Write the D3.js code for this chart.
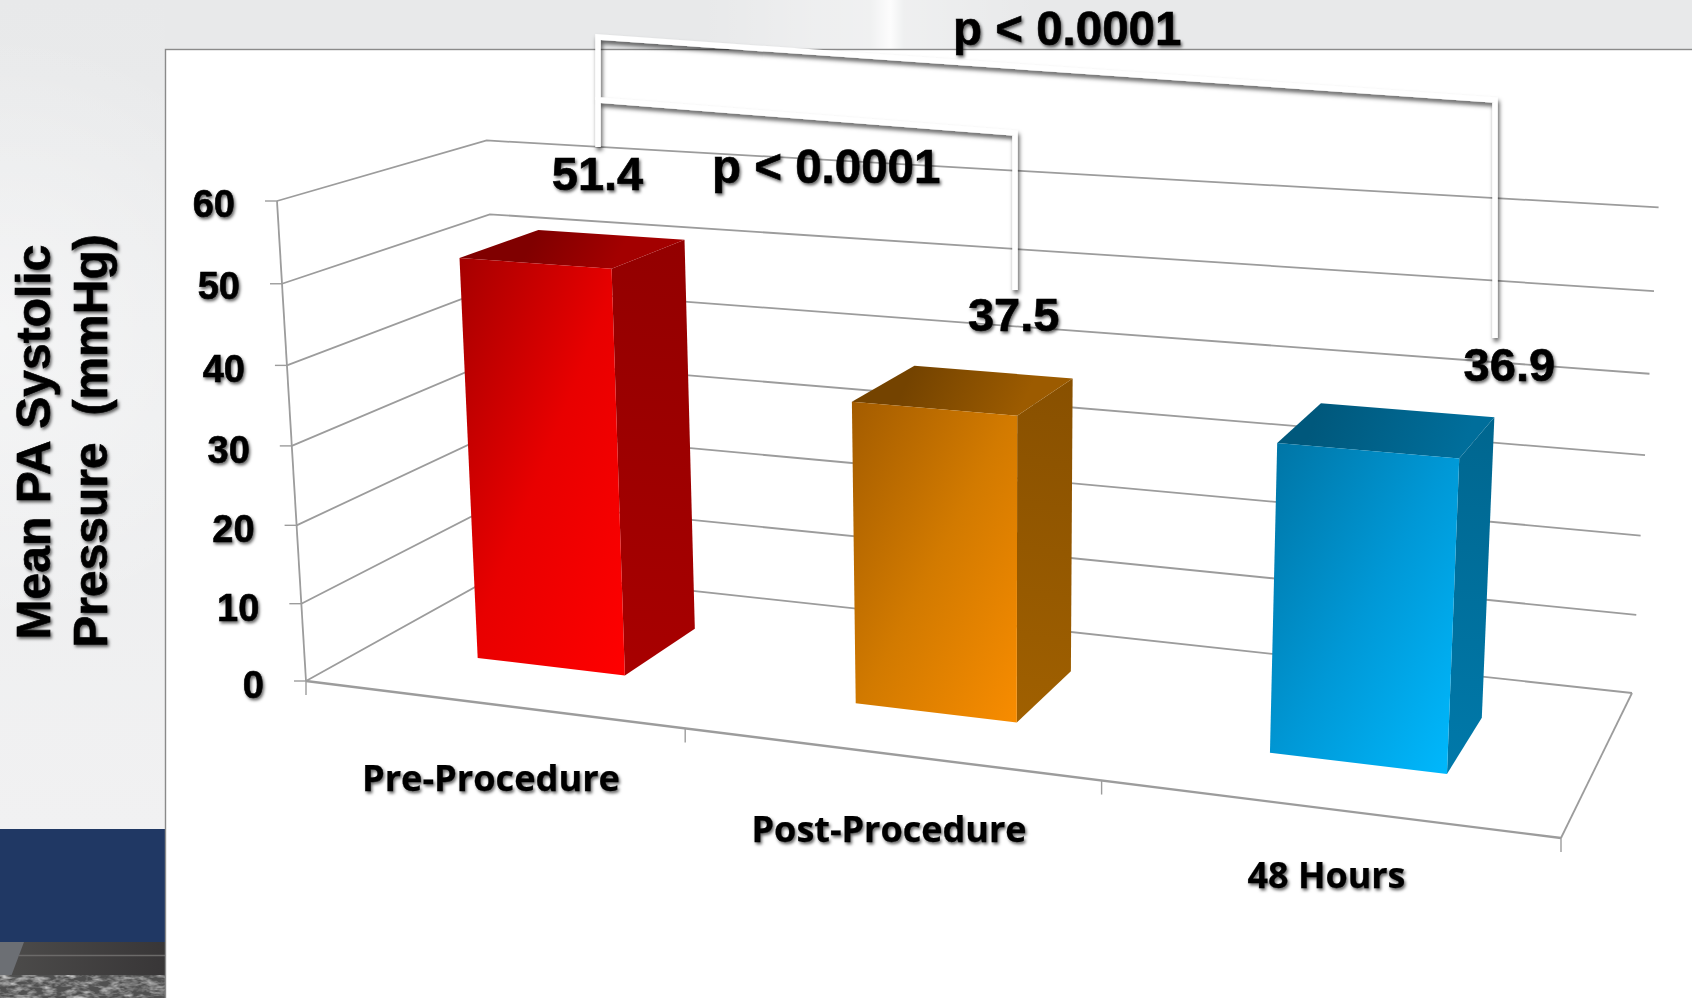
<!DOCTYPE html>
<html>
<head>
<meta charset="utf-8">
<script src="https://cdn.jsdelivr.net/npm/d3@7"></script>
<style>
html,body{margin:0;padding:0;background:#fff;overflow:hidden}
svg{display:block}
text{font-family:"Liberation Sans",Arial,sans-serif;font-weight:700;fill:#000;stroke:#000;stroke-width:0.6px}
.cat{font-family:"Open Sans","Noto Sans",sans-serif;stroke-width:0.25px}
</style>
</head>
<body>
<svg id="chart" width="1692" height="998"></svg>
<script>
// Chart values
const categories = ["Pre-Procedure", "Post-Procedure", "48 Hours"];
const systolic = [51.4, 37.5, 36.9];
const yTicks = [0, 10, 20, 30, 40, 50, 60];
const yTitleLines = ["Mean PA Systolic", "Pressure  (mmHg)"];
const pLabels = ["p < 0.0001", "p < 0.0001"];

const W = 1692, H = 998;
const svg = d3.select("#chart");
const defs = svg.append("defs");

// Chart space: x across categories, y up the value axis, z into the page (each 0..1)
const xBand = d3.scaleBand().domain(categories).range([0, 1]).paddingInner(0.6).paddingOuter(0.3);
const xEdges = d3.scaleLinear().domain([0, categories.length]).range([0, 1]);
const yScale = d3.scaleLinear().domain([0, 60]).range([0, 1]);
const zScale = d3.scaleLinear().domain([0, 1]).range([0, 1]);
const barDepth = [0.30, 0.70];

// Perspective camera: floor corners (front-left, front-right, back-right, back-left)
// give the plane homography; the value axis adds a third column.
const floor = [[306, 681], [1561, 838], [1632, 693], [505, 570.4]];
const camera = (function () {
  const [[x0, y0], [x1, y1], [x2, y2], [x3, y3]] = floor;
  const dx1 = x1 - x2, dx2 = x3 - x2, sx = x0 - x1 + x2 - x3;
  const dy1 = y1 - y2, dy2 = y3 - y2, sy = y0 - y1 + y2 - y3;
  const den = dx1 * dy2 - dx2 * dy1;
  const g = (sx * dy2 - dx2 * sy) / den;
  const h = (dx1 * sy - sx * dy1) / den;
  const r = -0.04;
  return {
    a: x1 - x0 + g * x1, b: x3 - x0 + h * x3, c: x0,
    d: y1 - y0 + g * y1, e: y3 - y0 + h * y3, f: y0,
    g, h, r,
    p: 277 * (1 + r) - x0,
    q: 201 * (1 + r) - y0
  };
})();
function project(u, v, w) {
  const m = camera;
  const d = m.g * u + m.h * w + m.r * v + 1;
  return [(m.a * u + m.b * w + m.p * v + m.c) / d,
          (m.d * u + m.e * w + m.q * v + m.f) / d];
}

// ---- slide backdrop -------------------------------------------------------
const bgGrad = defs.append("linearGradient").attr("id", "bgSide")
  .attr("gradientUnits", "userSpaceOnUse").attr("x1", 0).attr("y1", 0).attr("x2", 0).attr("y2", 830);
bgGrad.append("stop").attr("offset", 0).attr("stop-color", "#e8e9ea");
bgGrad.append("stop").attr("offset", 0.5).attr("stop-color", "#edeeef");
bgGrad.append("stop").attr("offset", 1).attr("stop-color", "#f1f1f2");
const sheen = defs.append("radialGradient").attr("id", "sheen")
  .attr("gradientUnits", "userSpaceOnUse").attr("cx", 0).attr("cy", 330).attr("r", 300);
sheen.append("stop").attr("offset", 0).attr("stop-color", "#fff").attr("stop-opacity", 0.45);
sheen.append("stop").attr("offset", 1).attr("stop-color", "#fff").attr("stop-opacity", 0);
const gleam = defs.append("linearGradient").attr("id", "gleam")
  .attr("gradientUnits", "userSpaceOnUse").attr("x1", 700).attr("y1", 0).attr("x2", 1040).attr("y2", 0);
[[0, 0], [0.35, 0.28], [0.5, 0.35], [0.56, 0.9], [0.6, 0.3], [1, 0]].forEach(([o, a]) =>
  gleam.append("stop").attr("offset", o).attr("stop-color", "#fff").attr("stop-opacity", a));

const back = svg.append("g");
back.append("rect").attr("width", W).attr("height", 50).attr("fill", "#e8e9ea");
back.append("rect").attr("width", 165).attr("height", 830).attr("fill", "url(#bgSide)");
back.append("rect").attr("width", 165).attr("height", 830).attr("fill", "url(#sheen)");
back.append("rect").attr("x", 700).attr("width", 340).attr("height", 50).attr("fill", "url(#gleam)");
back.append("rect").attr("y", 829).attr("width", 165).attr("height", 113).attr("fill", "#203864");
const road = defs.append("linearGradient").attr("id", "road")
  .attr("gradientUnits", "userSpaceOnUse").attr("x1", 0).attr("y1", 0).attr("x2", 165).attr("y2", 0);
road.append("stop").attr("offset", 0).attr("stop-color", "#4d4c4b");
road.append("stop").attr("offset", 1).attr("stop-color", "#383637");
back.append("rect").attr("y", 942).attr("width", 165).attr("height", 56).attr("fill", "url(#road)");
back.append("path").attr("d", "M0 942H24L6 990H0Z").attr("fill", "#6c6f74");
back.append("line").attr("x1", 19).attr("x2", 165).attr("y1", 955.5).attr("y2", 955.5).attr("stroke", "#6b6a69").attr("stroke-width", 1.4);
const noise = defs.append("filter").attr("id", "speckle").attr("x", 0).attr("y", 0).attr("width", 1).attr("height", 1);
noise.append("feTurbulence").attr("type", "fractalNoise").attr("baseFrequency", "0.09 0.22").attr("numOctaves", 3).attr("seed", 7);
noise.append("feColorMatrix").attr("type", "matrix")
  .attr("values", "0 0 0 0 0.55  0 0 0 0 0.55  0 0 0 0 0.55  1.6 1.6 0 0 -1.35");
back.append("rect").attr("y", 975).attr("width", 165).attr("height", 23).attr("fill", "#505050");
back.append("rect").attr("y", 975).attr("width", 165).attr("height", 23).attr("filter", "url(#speckle)");

// White chart panel
svg.append("rect").attr("x", 165.5).attr("y", 49.5).attr("width", W).attr("height", H)
  .attr("fill", "#fff").attr("stroke", "#8a8a8a").attr("stroke-width", 1.4);

// ---- shadows --------------------------------------------------------------
function shadow(id, dx, dy, blur, colour, op) {
  const f = defs.append("filter").attr("id", id)
    .attr("x", "-20%").attr("y", "-20%").attr("width", "140%").attr("height", "140%")
    .attr("filterUnits", "objectBoundingBox");
  f.append("feDropShadow").attr("dx", dx).attr("dy", dy).attr("stdDeviation", blur)
    .attr("flood-color", colour).attr("flood-opacity", op);
}
shadow("txtShadow", 1.5, 2.2, 1.6, "#000", 0.6);
shadow("lineShadow", 1.5, 3.5, 2.2, "#000", 0.65);

// ---- axes and gridlines ---------------------------------------------------
const gridColour = "#9c9c9c";
const line = d3.line();
const grid = svg.append("g").attr("fill", "none").attr("stroke", gridColour).attr("stroke-width", 1.8);

grid.selectAll(".wall").data(yTicks).join("path").attr("class", "wall")
  .attr("d", t => {
    const v = yScale(t);
    return line([project(0, v, 0), project(0, v, 1), project(1, v, 1)]);
  });
// Value axis on the front-left corner, floor's front edge and right edge
grid.append("path").attr("d", line([project(0, yScale(0), 0), project(0, yScale(60), 0)]));
grid.append("path").attr("stroke-width", 2.4).attr("d", line([project(0, 0, 0), project(1, 0, 0)]));
grid.append("path").attr("d", line([project(1, 0, 0), project(1, 0, 1)]));
// Tick marks
grid.selectAll(".yt").data(yTicks).join("path").attr("class", "yt")
  .attr("stroke-width", 1.4)
  .attr("d", t => {
    const [x, y] = project(0, yScale(t), 0);
    return line([[x - 12, y], [x, y]]);
  });
grid.selectAll(".xt").data(d3.range(categories.length + 1)).join("path").attr("class", "xt")
  .attr("stroke-width", 1.4)
  .attr("d", i => {
    const [x, y] = project(xEdges(i), 0, 0);
    return line([[x, y], [x, y + 14]]);
  });

// ---- bars -----------------------------------------------------------------
const palette = [
  { front: ["#a50000", "#e80000", "#ff0000"], side: ["#930000", "#a80000"], top: ["#800000", "#a30000"] },
  { front: ["#a35c00", "#d27a00", "#f88c00"], side: ["#885000", "#a06000"], top: ["#744300", "#9c5b00"] },
  { front: ["#0074a4", "#0098d6", "#00baff"], side: ["#00668f", "#0079aa"], top: ["#00587c", "#006e9b"] }
];
function gradient(id, p, q, colours) {
  const g = defs.append("linearGradient").attr("id", id).attr("gradientUnits", "userSpaceOnUse")
    .attr("x1", p[0]).attr("y1", p[1]).attr("x2", q[0]).attr("y2", q[1]);
  g.append("stop").attr("offset", 0).attr("stop-color", colours[0]);
  g.append("stop").attr("offset", 1).attr("stop-color", colours[1]);
}
function boxGradient(id, colours) {
  // Diagonal across the face's own box, so the opposite corners share a tone
  const g = defs.append("linearGradient").attr("id", id)
    .attr("x1", 0).attr("y1", 0).attr("x2", 1).attr("y2", 1);
  colours.forEach((c, k) => g.append("stop").attr("offset", k / (colours.length - 1)).attr("stop-color", c));
}
const bars = svg.append("g");
const barTops = [];
categories.forEach((c, i) => {
  const u0 = xBand(c), u1 = u0 + xBand.bandwidth();
  const v = yScale(systolic[i]);
  const [w0, w1] = barDepth.map(zScale);
  const ftl = project(u0, v, w0), ftr = project(u1, v, w0);
  const fbl = project(u0, 0, w0), fbr = project(u1, 0, w0);
  const btl = project(u0, v, w1), btr = project(u1, v, w1), bbr = project(u1, 0, w1);
  barTops.push(btr);
  boxGradient("front" + i, palette[i].front);
  gradient("side" + i, btr, fbr, palette[i].side);
  gradient("top" + i, btl, ftr, palette[i].top);
  bars.append("path").attr("d", line([ftr, btr, bbr, fbr]) + "Z").attr("fill", `url(#side${i})`);
  bars.append("path").attr("d", line([ftl, btl, btr, ftr]) + "Z").attr("fill", `url(#top${i})`);
  bars.append("path").attr("d", line([ftl, ftr, fbr, fbl]) + "Z").attr("fill", `url(#front${i})`);
});

// ---- significance brackets ------------------------------------------------
const brackets = svg.append("g").attr("fill", "none").attr("stroke", "#fff").attr("stroke-width", 5.5)
  .attr("stroke-linejoin", "miter").attr("filter", "url(#lineShadow)");
brackets.append("path").attr("d", line([[598, 100], [598, 37], [1495, 100], [1495, 338]]));
brackets.append("path").attr("d", line([[598, 147], [598, 100], [1015, 133], [1015, 290]]));

// ---- text -----------------------------------------------------------------
const texts = svg.append("g").attr("filter", "url(#txtShadow)");

texts.selectAll(".ytl").data(yTicks).join("text").attr("class", "ytl")
  .attr("font-size", 38).attr("text-anchor", "end")
  .attr("x", t => project(0, yScale(t), 0)[0] - 42)
  .attr("y", t => project(0, yScale(t), 0)[1] + 17 - (t >= 50 ? 1.5 : 0))
  .text(t => t);

// Value labels float above each bar's rear corner
const labelShift = [[-87, -50], [-59, -47], [15, -36]];
texts.selectAll(".val").data(systolic).join("text").attr("class", "val")
  .attr("font-size", 47).attr("text-anchor", "middle")
  .attr("x", (d, i) => barTops[i][0] + labelShift[i][0])
  .attr("y", (d, i) => barTops[i][1] + labelShift[i][1])
  .text(d => d3.format(".1f")(d));

texts.selectAll(".p").data(pLabels).join("text").attr("class", "p")
  .attr("font-size", 47.5).attr("text-anchor", "start")
  .attr("x", (d, i) => [953, 712][i])
  .attr("y", (d, i) => [45, 183][i])
  .text(d => d);

const catAnchors = [[491, 790.7, 258], [889, 841.7, 275], [1326.5, 888, 158]];
texts.selectAll(".cat").data(categories).join("text").attr("class", "cat")
  .attr("font-size", 35).attr("text-anchor", "middle")
  .attr("x", (d, i) => catAnchors[i][0]).attr("y", (d, i) => catAnchors[i][1])
  .attr("textLength", (d, i) => catAnchors[i][2]).attr("lengthAdjust", "spacingAndGlyphs")
  .text(d => d);

texts.selectAll(".ttl").data(yTitleLines).join("text").attr("class", "ttl")
  .attr("font-size", 48).attr("text-anchor", "middle")
  .style("white-space", "pre")
  .attr("transform", (d, i) => `translate(${[50.4, 107][i]},${[442, 441][i]}) rotate(-90)`)
  .text(d => d);
</script>
</body>
</html>
